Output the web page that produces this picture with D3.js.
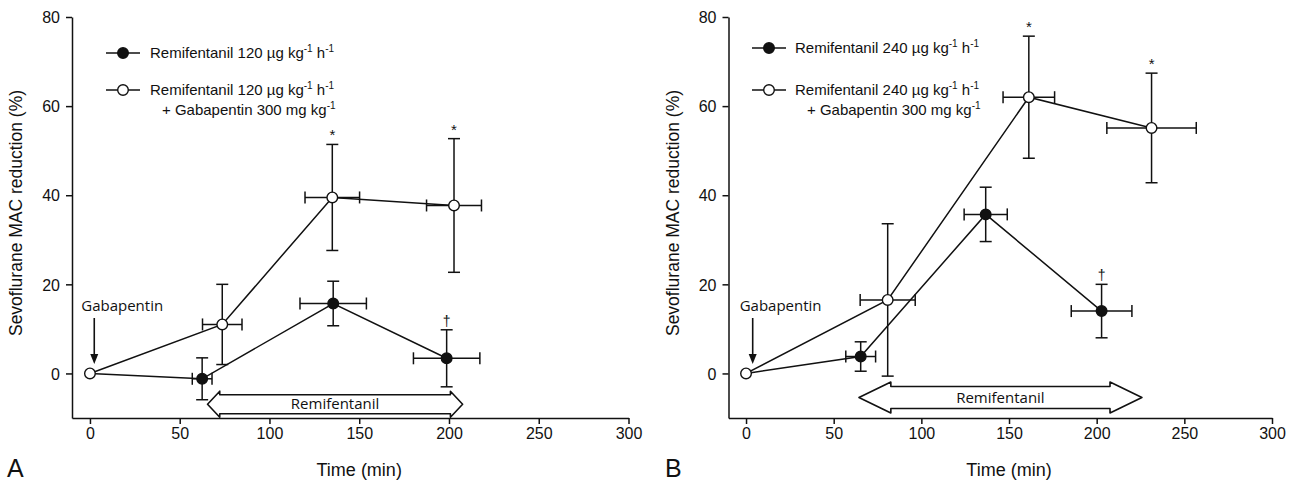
<!DOCTYPE html>
<html>
<head>
<meta charset="utf-8">
<script src="https://cdn.jsdelivr.net/npm/d3@7"></script>
<style>
  body { margin: 0; background: #fff; }
  svg { display: block; }
  text { fill: #111; }
  .tick text { font-family: "Liberation Sans", Arial, sans-serif; font-size: 16px; fill: #111; }
  .tick line, .domain { stroke: #111; stroke-width: 1.5px; }
</style>
</head>
<body>
<svg id="chart" width="1307" height="485"></svg>
<script>
// ---- data ----
var xTicks = [0, 50, 100, 150, 200, 250, 300];
var yTicks = [0, 20, 40, 60, 80];

// panel A: remifentanil 120
var timeA_remi = [0, 62.5, 135.5, 198.7];
var timeErrA_remi = [0, 5.5, 18.5, 18.5];
var macA_remi = [0, -1.2, 15.7, 3.4];
var macErrA_remi = [0, 4.7, 5.0, 6.4];
// panel A: remifentanil 120 + gabapentin
var timeA_gaba = [0, 73.7, 135, 202.8];
var timeErrA_gaba = [0, 11, 15.2, 15.3];
var macA_gaba = [0, 11, 39.5, 37.7];
var macErrA_gaba = [0, 9, 11.9, 15];

// panel B: remifentanil 240
var timeB_remi = [0, 65.4, 136.7, 202.8];
var timeErrB_remi = [0, 8.5, 12.3, 17.3];
var macB_remi = [0, 3.8, 35.7, 14];
var macErrB_remi = [0, 3.3, 6.1, 6];
// panel B: remifentanil 240 + gabapentin
var timeB_gaba = [0, 80.8, 161.3, 231.3];
var timeErrB_gaba = [0, 15.7, 14.7, 25.5];
var macB_gaba = [0, 16.5, 62, 55.1];
var macErrB_gaba = [0, 17.1, 13.7, 12.3];

// significance marks: index of point -> symbol
var marksA_remi = [null, null, null, "\u2020"];
var marksA_gaba = [null, null, "*", "*"];
var marksB_remi = [null, null, null, "\u2020"];
var marksB_gaba = [null, null, "*", "*"];

var svg = d3.select("#chart");
var font = "'Liberation Sans', Arial, sans-serif";
var font2 = "'Open Sans', sans-serif";

function zip(t, te, v, ve, m) {
  return t.map(function(d, i) { return {t: d, te: te[i], v: v[i], ve: ve[i], mark: m[i]}; });
}

function drawPanel(cfg) {
  var x = d3.scaleLinear().domain([-10, 300]).range(cfg.xRange);
  var y = d3.scaleLinear().domain([-10, 80]).range([418, 17]);
  var g = svg.append("g");

  g.append("g").attr("transform", "translate(0," + y(-10) + ")")
    .call(d3.axisBottom(x).tickValues(xTicks).tickSize(6).tickSizeOuter(0).tickPadding(9));
  g.append("g").attr("transform", "translate(" + x(-10) + ",0)")
    .call(d3.axisLeft(y).tickValues(yTicks).tickSize(6).tickSizeOuter(0).tickPadding(6));
  g.selectAll(".tick text").attr("dy", "0.36em");

  // axis titles
  g.append("text").attr("x", (x(0) + x(300)) / 2).attr("y", 476)
    .attr("text-anchor", "middle").style("font-family", font).style("font-size", "18px")
    .text("Time (min)");
  g.append("text").attr("transform", "translate(" + cfg.yTitleX + ",213) rotate(-90)")
    .attr("text-anchor", "middle").style("font-family", font).style("font-size", "17.5px")
    .text("Sevoflurane MAC reduction (%)");
  g.append("text").attr("x", cfg.letterX).attr("y", 477)
    .style("font-family", font).style("font-size", "25px").text(cfg.letter);

  // remifentanil block arrow
  var a = cfg.arrow;
  var x0 = x(a.from), x1 = x(a.to), h = x(a.from + a.head) - x0, yc = y(a.level);
  var p = d3.path();
  p.moveTo(x0, yc);
  p.lineTo(x0 + h, yc - a.hh); p.lineTo(x0 + h, yc - a.sh);
  p.lineTo(x1 - h, yc - a.sh); p.lineTo(x1 - h, yc - a.hh);
  p.lineTo(x1, yc);
  p.lineTo(x1 - h, yc + a.hh); p.lineTo(x1 - h, yc + a.sh);
  p.lineTo(x0 + h, yc + a.sh); p.lineTo(x0 + h, yc + a.hh);
  p.closePath();
  g.append("path").attr("d", p.toString()).attr("fill", "#fff")
    .attr("stroke", "#111").attr("stroke-width", 1.6).attr("stroke-linejoin", "round");
  g.append("text").attr("x", (x0 + x1) / 2).attr("y", yc + 5)
    .attr("text-anchor", "middle").style("font-family", font2).style("font-size", "15px")
    .text("Remifentanil");

  // gabapentin arrow
  var gx = x(cfg.gabaT);
  g.append("text").attr("x", gx - 13).attr("y", 311)
    .style("font-family", font2).style("font-size", "15px").text("Gabapentin");
  g.append("line").attr("x1", gx).attr("x2", gx).attr("y1", 318).attr("y2", 356)
    .attr("stroke", "#111").attr("stroke-width", 1.6);
  g.append("path").attr("d", "M" + (gx - 4) + ",354 L" + (gx + 4) + ",354 L" + gx + ",364 Z")
    .attr("fill", "#111");

  // series
  var line = d3.line().x(function(d) { return x(d.t); }).y(function(d) { return y(d.v); });
  var series = [
    {pts: cfg.remi, fill: "#111"},
    {pts: cfg.gaba, fill: "#fff"}
  ];
  series.forEach(function(s) {
    g.append("path").datum(s.pts).attr("d", line).attr("fill", "none")
      .attr("stroke", "#111").attr("stroke-width", 1.5);
  });
  series.forEach(function(s) {
    var pts = s.pts.filter(function(d) { return d.te > 0 || d.ve > 0; });
    var eb = g.append("g").attr("stroke", "#111").attr("stroke-width", 1.5);
    pts.forEach(function(d) {
      var cx = x(d.t), cy = y(d.v);
      var yt = y(d.v + d.ve), yb = y(d.v - d.ve), xl = x(d.t - d.te), xr = x(d.t + d.te);
      eb.append("line").attr("x1", cx).attr("x2", cx).attr("y1", yt).attr("y2", yb);
      eb.append("line").attr("x1", cx - 6).attr("x2", cx + 6).attr("y1", yt).attr("y2", yt);
      eb.append("line").attr("x1", cx - 6).attr("x2", cx + 6).attr("y1", yb).attr("y2", yb);
      eb.append("line").attr("x1", xl).attr("x2", xr).attr("y1", cy).attr("y2", cy);
      eb.append("line").attr("x1", xl).attr("x2", xl).attr("y1", cy - 6).attr("y2", cy + 6);
      eb.append("line").attr("x1", xr).attr("x2", xr).attr("y1", cy - 6).attr("y2", cy + 6);
      if (d.mark) {
        g.append("text").attr("x", cx).attr("y", yt - 4).attr("text-anchor", "middle")
          .attr("fill", "#111")
          .style("font-family", font).style("font-size", d.mark === "*" ? "15px" : "14px")
          .text(d.mark);
      }
    });
  });
  series.forEach(function(s) {
    g.selectAll(null).data(s.pts.slice(1)).enter().append("circle")
      .attr("cx", function(d) { return x(d.t); }).attr("cy", function(d) { return y(d.v); })
      .attr("r", 5.3).attr("fill", s.fill).attr("stroke", "#111").attr("stroke-width", 1.4);
  });
  // shared origin point (open)
  g.append("circle").attr("cx", x(0)).attr("cy", y(0)).attr("r", 5.3)
    .attr("fill", "#fff").attr("stroke", "#111").attr("stroke-width", 1.4);

  // legend
  var L = cfg.legend;
  function legendRow(yy, fill, lines) {
    g.append("line").attr("x1", L.x0).attr("x2", L.x1).attr("y1", yy).attr("y2", yy)
      .attr("stroke", "#111").attr("stroke-width", 1.5);
    g.append("circle").attr("cx", (L.x0 + L.x1) / 2).attr("cy", yy).attr("r", 5.3)
      .attr("fill", fill).attr("stroke", "#111").attr("stroke-width", 1.4);
    lines.forEach(function(ln, i) {
      var t = g.append("text").attr("x", L.tx + (i ? 12 : 0)).attr("y", yy + 5 + i * 20)
        .style("font-family", font).style("font-size", "15px");
      ln.forEach(function(part) {
        if (part.sup) t.append("tspan").attr("dy", -6).style("font-size", "10px").text(part.s)
          .clone().attr("dy", 6).style("font-size", "15px").text(part.after || "");
        else t.append("tspan").text(part.s);
      });
    });
  }
  var dose = cfg.dose;
  var l1 = [{s: "Remifentanil " + dose + " \u00b5g kg"}, {s: "-1", sup: true, after: " h"}, {s: "-1", sup: true}];
  var l2 = [{s: "+ Gabapentin 300 mg kg"}, {s: "-1", sup: true}];
  legendRow(L.y1, "#111", [l1]);
  legendRow(L.y2, "#fff", [l1, l2]);
}

drawPanel({
  xRange: [72, 628.5], yTitleX: 22, letter: "A", letterX: 7, dose: 120,
  remi: zip(timeA_remi, timeErrA_remi, macA_remi, macErrA_remi, marksA_remi),
  gaba: zip(timeA_gaba, timeErrA_gaba, macA_gaba, macErrA_gaba, marksA_gaba),
  arrow: {from: 65.5, to: 207.6, head: 6.8, level: -6.9, hh: 13, sh: 9.5},
  gabaT: 2.4,
  legend: {x0: 106, x1: 140, tx: 150, y1: 53, y2: 90}
});
drawPanel({
  xRange: [728.5, 1272], yTitleX: 679, letter: "B", letterX: 665, dose: 240,
  remi: zip(timeB_remi, timeErrB_remi, macB_remi, macErrB_remi, marksB_remi),
  gaba: zip(timeB_gaba, timeErrB_gaba, macB_gaba, macErrB_gaba, marksB_gaba),
  arrow: {from: 64.4, to: 225.8, head: 18.2, level: -5.4, hh: 15.5, sh: 11},
  gabaT: 3.8,
  legend: {x0: 752, x1: 786, tx: 795, y1: 48, y2: 90}
});
</script>
</body>
</html>
